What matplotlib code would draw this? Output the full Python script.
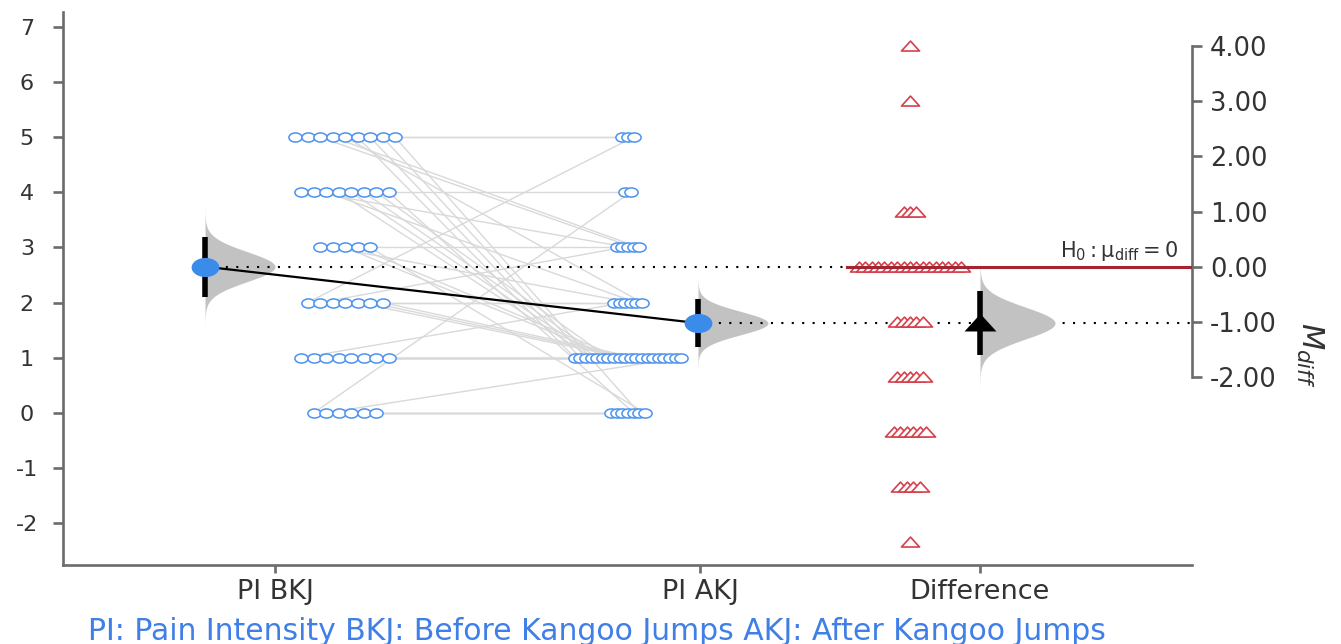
import numpy as np
import matplotlib.pyplot as plt
from matplotlib.path import Path
from matplotlib.collections import LineCollection

# paired pain scores (before / after Kangoo jumps), one entry per participant
bkj = [5, 5, 2, 4, 0, 3, 2, 4, 5, 5, 2, 2, 1, 3, 4, 5,
       5, 5, 5, 4, 4, 4, 4, 3, 3, 2, 2, 2, 1, 1, 1, 1, 1, 1, 1, 0,
       0, 0, 0, 0, 4, 5, 3]
akj = [5, 5, 5, 4, 4, 3, 3, 3, 3, 3, 2, 2, 2, 2, 2, 2,
       1, 1, 1, 1, 1, 1, 1, 1, 1, 1, 1, 1, 1, 1, 1, 1, 1, 1, 1, 1,
       0, 0, 0, 0, 0, 0, 0]
group_labels = ["PI BKJ", "PI AKJ", "Difference"]
left_ticks = [-2, -1, 0, 1, 2, 3, 4, 5, 6, 7]
right_ticks = [-2, -1, 0, 1, 2, 3, 4]
caption = "PI: Pain Intensity BKJ: Before Kangoo Jumps AKJ: After Kangoo Jumps"

bkj = np.array(bkj, dtype=float)
akj = np.array(akj, dtype=float)
diff = akj - bkj
t95 = 2.018  # t quantile, df = 42

def stats(v):
    return v.mean(), v.std(ddof=1) / np.sqrt(len(v))

m_b, se_b = stats(bkj)
m_a, se_a = stats(akj)
m_d, se_d = stats(diff)

# layout (x in pixel-like units of the axes)
X0, X1 = 63, 1192
tick_x = [275, 700, 980]
mean_x = {"b": 205, "a": 698, "d": 980}
pts_c = {"b": 345, "a": 628, "d": 910}
pts_dx = {"b": 12.5, "a": 5.6, "d": 6.4}
YLO, YHI = -2.76, 7.27

blue = "#3b8beb"
blue_pt = "#4c93ee"
red = "#d6404c"
dark_red = "#a3252f"
gray_v = "#c2c2c2"
spine_c = "#6b6b6b"
txt_c = "#333333"

uc = Path.unit_circle()
ellipse = Path(uc.vertices * [1.45, 1.0], uc.codes)
tri = Path([(-1, -0.5), (1, -0.5), (0, 0.6), (-1, -0.5)],
           [Path.MOVETO, Path.LINETO, Path.LINETO, Path.CLOSEPOLY])


def row_positions(vals, center, dx):
    xs = np.zeros(len(vals))
    for lv in np.unique(vals):
        idx = np.where(vals == lv)[0]
        k = len(idx)
        xs[idx] = center + (np.arange(k) - (k - 1) / 2) * dx
    return xs


def half_violin(axis, x0, m, se, width=70, color=gray_v):
    y = np.linspace(m - 4.5 * se, m + 4.5 * se, 300)
    w = width * np.exp(-0.5 * ((y - m) / se) ** 2)
    axis.fill_betweenx(y, x0, x0 + w, color=color, lw=0, zorder=2)


fig = plt.figure(figsize=(13.41, 6.44), dpi=100)
W, H = 1341, 644
ax = fig.add_axes([X0 / W, (H - 565) / H, (X1 - X0) / W, (565 - 12) / H])
ax2 = ax.twinx()
ax.set_xlim(X0, X1)
ax.set_ylim(YLO, YHI)
ax2.set_ylim(YLO - m_b, YHI - m_b)

xb = row_positions(bkj, pts_c["b"], pts_dx["b"])
xa = row_positions(akj, pts_c["a"], pts_dx["a"])
xd = row_positions(diff, pts_c["d"], pts_dx["d"])

# connecting lines between pairs
segs = [[(xb[i], bkj[i]), (xa[i], akj[i])] for i in range(len(bkj))]
ax.add_collection(LineCollection(segs, colors="#d9d9d9", linewidths=1.0, zorder=1))

# raw points
ax.plot(xb, bkj, ls="none", marker=ellipse, ms=9.5, mfc="white", mec=blue_pt, mew=1.1, zorder=3)
ax.plot(xa, akj, ls="none", marker=ellipse, ms=9.5, mfc="white", mec=blue_pt, mew=1.1, zorder=3)

# violins, CIs, means
half_violin(ax, mean_x["b"], m_b, se_b)
half_violin(ax, mean_x["a"], m_a, se_a)
ax.plot([mean_x["b"], mean_x["a"]], [m_b, m_a], color="black", lw=1.6, zorder=4)
ax.plot([mean_x["b"], 847], [m_b, m_b], color="black", lw=1.5, ls=(0, (1, 4)), zorder=4)
ax.plot([mean_x["a"], X1], [m_a, m_a], color="black", lw=1.5, ls=(0, (1, 4)), zorder=4)
for key, m, se in [("b", m_b, se_b), ("a", m_a, se_a)]:
    ax.plot([mean_x[key]] * 2, [m - t95 * se, m + t95 * se], color="black", lw=4, solid_capstyle="butt", zorder=5)
    ax.plot(mean_x[key], m, ls="none", marker=ellipse, ms=20, mfc=blue, mec="none", zorder=6)

# difference part on the right axis
ax2.plot(xd, diff, ls="none", marker=tri, ms=13, mfc="white", mec=red, mew=1.2, zorder=3)
half_violin(ax2, mean_x["d"], m_d, se_d, width=75)
ax2.plot([847, X1], [0, 0], color=dark_red, lw=2.2, zorder=4)
ax2.plot([mean_x["d"]] * 2, [m_d - t95 * se_d, m_d + t95 * se_d], color="black", lw=4, solid_capstyle="butt", zorder=5)
ax2.plot(mean_x["d"], m_d, ls="none", marker=tri, ms=23, mfc="black", mec="none", zorder=6)
ax2.text(1178, 0.06, r"$\mathrm{H_0: \mu_{diff} = 0}$", ha="right", va="bottom", fontsize=15, color=txt_c)

# axes styling
for s in ["top", "right"]:
    ax.spines[s].set_visible(False)
for s in ["top", "left", "bottom"]:
    ax2.spines[s].set_visible(False)
for s in [ax.spines["left"], ax.spines["bottom"], ax2.spines["right"]]:
    s.set_color(spine_c)
    s.set_linewidth(1.9)
ax2.spines["right"].set_bounds(min(right_ticks), max(right_ticks))

ax.set_yticks(left_ticks)
ax.set_yticklabels([str(v) for v in left_ticks])
for lbl in ax.get_yticklabels():
    lbl.set_ha("center")
ax.tick_params(axis="y", length=7, width=1.9, color=spine_c, labelsize=16, labelcolor=txt_c, pad=19)
ax.set_xticks(tick_x)
ax.set_xticklabels(group_labels)
ax.tick_params(axis="x", length=6, width=1.9, color=spine_c, labelsize=19.5, labelcolor=txt_c, pad=4)

ax2.set_yticks(right_ticks)
ax2.set_yticklabels([f"{v:.2f}" for v in right_ticks])
ax2.tick_params(axis="y", length=7, width=1.9, color=spine_c, labelsize=18.5, labelcolor=txt_c, pad=6)
ax2.set_ylabel(r"$M_{diff}$", rotation=270, fontsize=22, color=txt_c, labelpad=8, va="bottom")
ax2.yaxis.set_label_coords(1.09, (YHI - m_b - 0.8) / (YHI - YLO))

fig.text(88 / W, 1 - 631 / H, caption, color="#3f7fe6", fontsize=21.5, ha="left", va="center")

fig.savefig("out.png", dpi=100)
